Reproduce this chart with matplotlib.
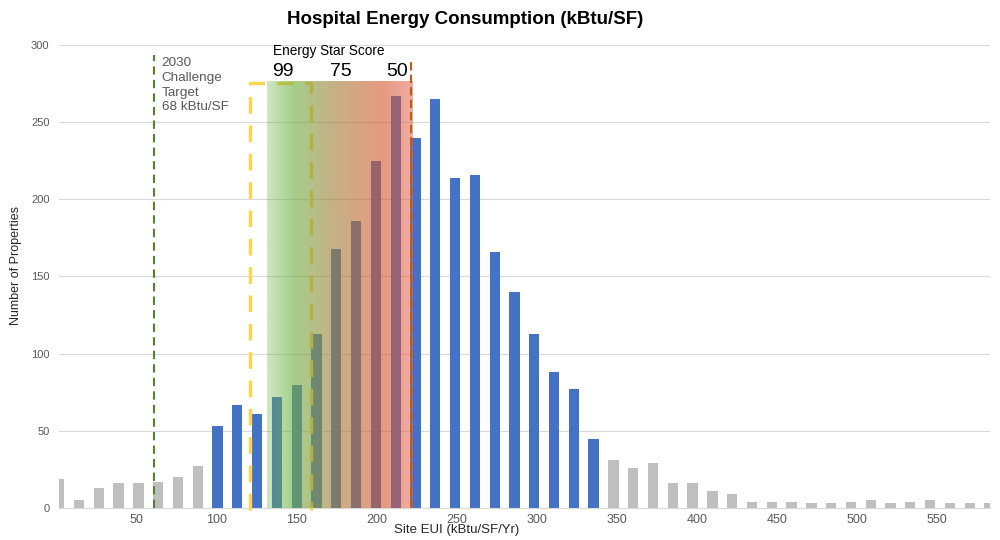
import numpy as np
import matplotlib
matplotlib.use("Agg")
import matplotlib.pyplot as plt

plt.rcParams['font.family'] = ['Liberation Sans', 'DejaVu Sans']

#bin centers (kBtu/SF/Yr) of the histogram, 48 bins
bin_start = 2.1
bin_width = 12.35
counts = [19, 5, 13, 16, 16, 17, 20, 27,
          53, 67, 61, 72, 80, 113, 168, 186, 225, 267, 240, 265,
          214, 216, 166, 140, 113, 88, 77, 45,
          31, 26, 29, 16, 16, 11, 9, 4, 4, 4, 3, 3, 4, 5, 3, 4, 5, 3, 3, 3]
#bins drawn in blue (the rest are gray)
blue_first = 8
blue_last = 27

xticks = [50, 100, 150, 200, 250, 300, 350, 400, 450, 500, 550]
yticks = [0, 50, 100, 150, 200, 250, 300]

#annotations
target_eui = 61.2          #2030 challenge target line
target_text = "2030\nChallenge\nTarget\n68 kBtu/SF"
score_labels = ["99", "75", "50"]
score_eui = [141.7, 177.9, 212.8]
score50_eui = 221.5        #Energy Star 50 line
yellow_box = [121.0, 159.2]
gradient_span = [131.5, 222.0]

n = len(counts)
x = bin_start + bin_width * np.arange(n)
colors = ["#4472C4" if blue_first <= i <= blue_last else "#BFBFBF" for i in range(n)]

fig = plt.figure(figsize=(10, 5.4), dpi=100)
ax = fig.add_axes([0.0592, 0.0593, 0.9303, 0.8574])

ax.bar(x, counts, width=bin_width * 0.52, color=colors, zorder=2)

ax.set_xlim(x[0], x[-1])
ax.set_ylim(0, 300)
ax.set_yticks(yticks)
ax.set_xticks(xticks)
ax.tick_params(axis='both', length=0, colors="#595959")
ax.tick_params(axis='y', labelsize=8, pad=7)
ax.tick_params(axis='x', labelsize=9, pad=4)
ax.grid(axis='y', color="#D9D9D9", linewidth=0.8, zorder=0)
ax.set_axisbelow(True)
for s in ["top", "right", "left"]:
    ax.spines[s].set_visible(False)
ax.spines["bottom"].set_color("#D9D9D9")

#yellow dashed box
bx0, bx1 = yellow_box
ax.plot([bx0, bx0, bx1, bx1], [-1, 275.4, 275.4, -1], color="#FFD54F",
        linewidth=2.4, dashes=(5, 3.5), zorder=3, clip_on=False)

#gradient overlay green -> khaki -> red
pos = [0.0, 0.18, 0.45, 0.8, 1.0]
R = [110, 110, 160, 215, 228]
G = [177, 177, 130, 85, 95]
B = [65, 65, 60, 45, 75]
A = [0.32, 0.62, 0.62, 0.6, 0.52]
t = np.linspace(0, 1, 300)
img = np.zeros((2, 300, 4))
img[:, :, 0] = np.interp(t, pos, R) / 255
img[:, :, 1] = np.interp(t, pos, G) / 255
img[:, :, 2] = np.interp(t, pos, B) / 255
img[:, :, 3] = np.interp(t, pos, A)
ax.imshow(img, extent=[gradient_span[0], gradient_span[1], 0, 276.3],
          aspect='auto', zorder=4, interpolation='bilinear')

#dashed reference lines
ax.plot([target_eui, target_eui], [0, 293.5], color="#548235", linewidth=1.5,
        dashes=(4, 2.5), zorder=5)
ax.plot([score50_eui, score50_eui], [0, 291.6], color="#C55A11", linewidth=1.5,
        dashes=(4, 2), zorder=5)

ax.text(66.0, 292, target_text, fontsize=9.7, color="#595959", va='top',
        ha='left', linespacing=1.3, zorder=6)
ax.text(135.3, 295.8, "Energy Star Score", fontsize=9.8, color="black",
        va='center', ha='left', zorder=6, clip_on=False)
for lab, xe in zip(score_labels, score_eui):
    ax.text(xe, 282.5, lab, fontsize=14, color="black", va='center',
            ha='center', zorder=6)

fig.text(0.465, 0.963, "Hospital Energy Consumption (kBtu/SF)", fontsize=13.5,
         fontweight='bold', ha='center', va='center')
fig.text(0.016, 0.509, "Number of Properties", fontsize=9, rotation=90,
         ha='center', va='center', color="#262626")
fig.text(0.457, 0.0185, "Site EUI (kBtu/SF/Yr)", fontsize=9.5, ha='center',
         va='center', color="#262626")

fig.savefig("out.png", dpi=100)
